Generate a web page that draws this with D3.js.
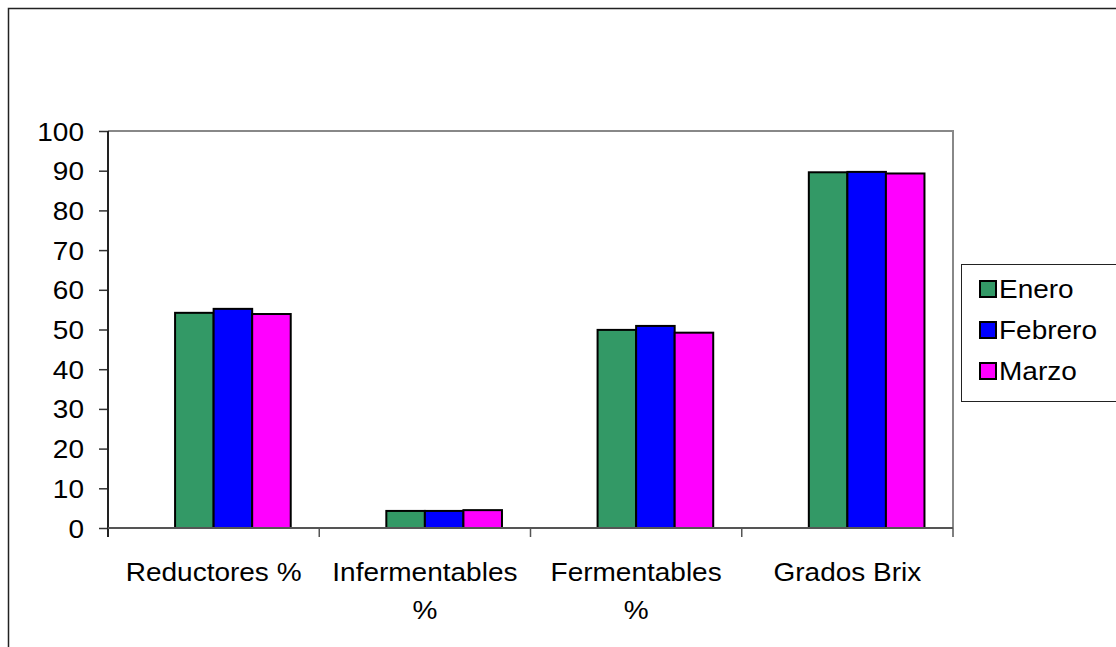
<!DOCTYPE html>
<html>
  <head>
    <meta charset="utf-8">
    <title>Azucares</title>
    <style>
      body { margin: 0; background: white; }
      text { font-family: "Liberation Sans", Arial, sans-serif; font-size: 25px; fill: black; }
      .bar { stroke: black; stroke-width: 2; }
    </style>
  </head>
  <body>
    <svg width="1116" height="647"></svg>
    <script src="https://d3js.org/d3.v7.min.js"></script>
    <script type="application/javascript">
      const categories = ['Reductores %', 'Infermentables %', 'Fermentables %', 'Grados Brix'];
      const series = ['Enero', 'Febrero', 'Marzo'];
      const enero = [54.2, 4.3, 49.9, 89.6];
      const febrero = [55.2, 4.3, 50.9, 89.7];
      const marzo = [53.9, 4.5, 49.2, 89.3];
      const colors = ['#339966', '#0000ff', '#ff00ff'];
      const values = [enero, febrero, marzo];

      const svg = d3.select('svg');
      const stretch = 1.12; // text in the picture is a bit wide

      // outer chart border
      svg.append('rect')
        .attr('x', 8.5).attr('y', 8.5)
        .attr('width', 1200).attr('height', 700)
        .attr('fill', 'none').attr('stroke', '#222').attr('stroke-width', 1.5);

      const plotLeft = 108, plotRight = 953, plotTop = 131, plotBottom = 528;

      const y = d3.scaleLinear().domain([0, 100]).range([plotBottom, plotTop]);
      const x0 = d3.scaleBand().domain(categories).range([plotLeft, plotRight]);
      // Excel slot layout: group holds an empty first slot
      const x1 = d3.scaleBand().domain(['', ...series]).range([0, x0.bandwidth()]).paddingOuter(0.74);

      // plot frame (top and right)
      svg.append('path')
        .attr('d', `M${plotLeft},${plotTop}H${plotRight}V${plotBottom}`)
        .attr('fill', 'none').attr('stroke', '#888').attr('stroke-width', 2);

      // bars
      series.forEach((s, i) => {
        svg.append('g')
          .selectAll('rect')
          .data(categories)
          .enter()
            .append('rect')
            .attr('class', 'bar')
            .attr('fill', colors[i])
            .attr('x', c => x0(c) + x1(s))
            .attr('width', x1.bandwidth())
            .attr('y', (c, j) => y(values[i][j]))
            .attr('height', (c, j) => plotBottom - y(values[i][j]));
      });

      // y axis
      const yAxis = svg.append('g')
        .attr('transform', `translate(${plotLeft},0)`)
        .call(d3.axisLeft(y).ticks(10).tickSize(9).tickSizeOuter(0).tickPadding(0));
      yAxis.select('.domain').remove();
      yAxis.selectAll('.tick line').attr('stroke', '#333').attr('stroke-width', 1.5);
      yAxis.selectAll('.tick text')
        .attr('x', -24 / stretch)
        .attr('dy', '0.36em')
        .attr('transform', `scale(${stretch},1)`)
        .style('font-size', '25px')
        .style('font-family', '"Liberation Sans", Arial, sans-serif');

      svg.append('line')
        .attr('x1', plotLeft).attr('x2', plotLeft)
        .attr('y1', plotTop).attr('y2', plotBottom + 9)
        .attr('stroke', '#222').attr('stroke-width', 2);

      // x axis line and ticks
      svg.append('line')
        .attr('x1', plotLeft).attr('x2', plotRight)
        .attr('y1', plotBottom).attr('y2', plotBottom)
        .attr('stroke', '#555').attr('stroke-width', 2);
      const xTicks = categories.map(c => x0(c) + x0.bandwidth());
      svg.append('g')
        .selectAll('line')
        .data(xTicks)
        .enter()
          .append('line')
          .attr('x1', d => d).attr('x2', d => d)
          .attr('y1', plotBottom).attr('y2', plotBottom + 9)
          .attr('stroke', '#555').attr('stroke-width', 1.5);

      // category labels, wrapped to band width
      categories.forEach(c => {
        const cx = x0(c) + x0.bandwidth() / 2;
        const g = svg.append('g').attr('transform', `translate(${cx},0) scale(${stretch},1)`);
        const words = c.split(' ');
        const lines = [];
        let line = [];
        const probe = g.append('text');
        words.forEach(w => {
          const test = line.concat(w).join(' ');
          probe.text(test);
          if (probe.node().getComputedTextLength() * stretch > x0.bandwidth() - 20 && line.length) {
            lines.push(line.join(' '));
            line = [w];
          } else {
            line.push(w);
          }
        });
        lines.push(line.join(' '));
        probe.remove();
        lines.forEach((l, k) => {
          g.append('text')
            .attr('x', 0)
            .attr('y', 581 + k * 38)
            .attr('text-anchor', 'middle')
            .text(l);
        });
      });

      // legend
      const legend = svg.append('g');
      legend.append('rect')
        .attr('x', 961.5).attr('y', 264.5)
        .attr('width', 160).attr('height', 137)
        .attr('fill', 'white').attr('stroke', '#222').attr('stroke-width', 1);
      series.forEach((s, i) => {
        const cy = 289 + i * 41;
        legend.append('rect')
          .attr('x', 980).attr('y', cy - 8)
          .attr('width', 16).attr('height', 16)
          .attr('fill', colors[i]).attr('stroke', 'black').attr('stroke-width', 2);
        legend.append('text')
          .attr('transform', `translate(999,${cy}) scale(${stretch},1)`)
          .attr('dy', '0.36em')
          .text(s);
      });
    </script>
  </body>
</html>
